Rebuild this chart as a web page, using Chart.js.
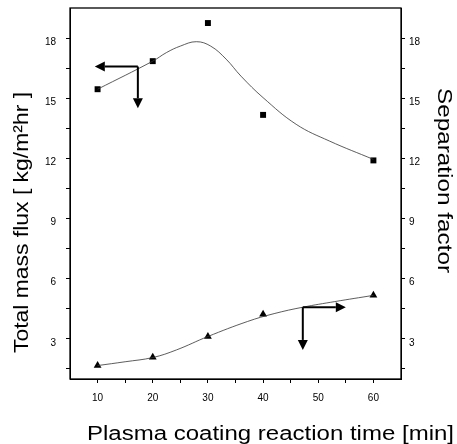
<!DOCTYPE html>
<html>
<head>
<meta charset="utf-8">
<script src="https://cdn.jsdelivr.net/npm/chart.js@4.4.0/dist/chart.umd.min.js"></script>
<style>
  html, body { margin: 0; padding: 0; background: #fff; }
</style>
</head>
<body>
<canvas id="fluxChart" width="457" height="444"></canvas>
<script>
// measured points
const times = [10, 20, 30, 40, 60];
const massFlux = [15.45, 16.85, 18.75, 14.17, 11.9];
const sepFactor = [1.67, 2.08, 3.12, 4.23, 5.17];

// fitted curves
const fluxFitX = [10, 20, 22.5, 25, 27.9, 30.5, 33.3, 36, 40, 46, 52, 60];
const fluxFitY = [15.45, 16.85, 17.28, 17.6, 17.82, 17.6, 16.95, 16.1, 15.03, 13.7, 12.87, 11.95];
const sepFitX = [10, 15, 20, 24.3, 30, 37.2, 42, 47.2, 53, 60];
const sepFitY = [1.67, 1.86, 2.07, 2.45, 3.12, 3.87, 4.26, 4.58, 4.86, 5.17];

// arrows: corner point, horizontal tip x, vertical tip y
const fluxArrow = [17.3, 16.58, 9.5, 14.5];
const sepArrow = [47.2, 4.58, 55, 2.45];

const xTicks = [10, 20, 30, 40, 50, 60];
const yTicks = [3, 6, 9, 12, 15, 18];

Chart.defaults.font.family = 'Liberation Sans, Arial, sans-serif';
Chart.defaults.color = '#000';

function pts(xs, ys) {
    return xs.map((x, i) => ({ x: x, y: ys[i] }));
}

function onStep(step) {
    return function (scale) {
        scale.ticks = scale.ticks.filter(t =>
            t.value > scale.min + 1e-6 && t.value < scale.max - 1e-6 &&
            Math.abs(t.value / step - Math.round(t.value / step)) < 1e-6);
    };
}

function fixSize(w, h) {
    return function (s) {
        if (w) s.width = w;
        if (h) s.height = h;
        s.paddingTop = 0; s.paddingBottom = 0;
        s.paddingLeft = 0; s.paddingRight = 0;
    };
}

function drawArrow(ctx, x1, y1, x2, y2) {
    const a = Math.atan2(y2 - y1, x2 - x1);
    const len = 10, half = 5;
    ctx.beginPath();
    ctx.moveTo(x1, y1);
    ctx.lineTo(x2 - Math.cos(a) * len, y2 - Math.sin(a) * len);
    ctx.stroke();
    ctx.beginPath();
    ctx.moveTo(x2, y2);
    ctx.lineTo(x2 - Math.cos(a) * len - Math.sin(a) * half, y2 - Math.sin(a) * len + Math.cos(a) * half);
    ctx.lineTo(x2 - Math.cos(a) * len + Math.sin(a) * half, y2 - Math.sin(a) * len - Math.cos(a) * half);
    ctx.closePath();
    ctx.fill();
}

// text stretched to the width it has in the original
function fitText(ctx, text, width) {
    const w = ctx.measureText(text).width;
    ctx.scale(width / w, 1);
    ctx.fillText(text, 0, 0);
}

const extras = {
    id: 'extras',
    afterDatasetsDraw(chart) {
        const ctx = chart.ctx, ca = chart.chartArea;
        const xs = chart.scales.x, ys = chart.scales.y;
        ctx.save();
        // frame
        ctx.strokeStyle = '#000';
        ctx.lineWidth = 1.3;
        ctx.strokeRect(ca.left, ca.top, ca.right - ca.left, ca.bottom - ca.top);
        // arrows
        ctx.fillStyle = '#000';
        ctx.lineWidth = 2;
        [fluxArrow, sepArrow].forEach(a => {
            const cx = xs.getPixelForValue(a[0]), cy = ys.getPixelForValue(a[1]);
            drawArrow(ctx, cx, cy, xs.getPixelForValue(a[2]), cy);
            drawArrow(ctx, cx, cy, cx, ys.getPixelForValue(a[3]));
        });
        ctx.restore();
    },
    afterDraw(chart) {
        const ctx = chart.ctx;
        ctx.save();
        ctx.fillStyle = '#000';
        ctx.font = '20px Liberation Sans, Arial, sans-serif';
        ctx.textBaseline = 'alphabetic';
        ctx.textAlign = 'left';
        // x title
        ctx.save();
        ctx.translate(87, 440);
        fitText(ctx, 'Plasma coating reaction time [min]', 367);
        ctx.restore();
        // left title
        ctx.save();
        ctx.translate(28, 353);
        ctx.rotate(-Math.PI / 2);
        fitText(ctx, 'Total mass flux [ kg/m\u00b2hr ]', 261);
        ctx.restore();
        // right title
        ctx.save();
        ctx.translate(438, 88);
        ctx.rotate(Math.PI / 2);
        fitText(ctx, 'Separation factor', 185);
        ctx.restore();
        ctx.restore();
    }
};

const tickGrid = { display: true, drawOnChartArea: false, drawTicks: true, tickLength: 4, color: '#000', tickColor: '#000' };

const fluxChart = new Chart(document.getElementById('fluxChart').getContext('2d'), {
    type: 'scatter',
    data: {
        datasets: [
            {
                label: 'Flux fit',
                type: 'line',
                data: pts(fluxFitX, fluxFitY),
                yAxisID: 'y',
                borderColor: '#333',
                borderWidth: 0.8,
                pointRadius: 0,
                tension: 0.4,
                fill: false
            },
            {
                label: 'Separation fit',
                type: 'line',
                data: pts(sepFitX, sepFitY),
                yAxisID: 'y1',
                borderColor: '#333',
                borderWidth: 0.8,
                pointRadius: 0,
                tension: 0.4,
                fill: false
            },
            {
                label: 'Total mass flux',
                data: pts(times, massFlux),
                yAxisID: 'y',
                pointStyle: 'rect',
                pointRadius: 4.2,
                backgroundColor: '#000',
                borderColor: '#000',
                borderWidth: 0
            },
            {
                label: 'Separation factor',
                data: pts(times, sepFactor),
                yAxisID: 'y1',
                pointStyle: 'triangle',
                pointRadius: 4.5,
                backgroundColor: '#000',
                borderColor: '#000',
                borderWidth: 0
            }
        ]
    },
    options: {
        responsive: false,
        animation: false,
        devicePixelRatio: 1,
        layout: { padding: { top: 8, left: 0, right: 0, bottom: 0 } },
        plugins: {
            legend: { display: false },
            tooltip: { enabled: false }
        },
        scales: {
            x: {
                type: 'linear',
                min: 5,
                max: 65,
                afterBuildTicks: onStep(5),
                afterFit: fixSize(0, 65),
                grid: tickGrid,
                border: { display: true, color: '#000', width: 1 },
                ticks: {
                    stepSize: 5,
                    padding: 9,
                    font: { size: 10 },
                    callback: v => xTicks.includes(v) ? v : ''
                }
            },
            y: {
                position: 'left',
                min: 1,
                max: 19.5,
                afterBuildTicks: onStep(1.5),
                afterFit: fixSize(70, 0),
                grid: tickGrid,
                border: { display: true, color: '#000', width: 1 },
                ticks: {
                    stepSize: 1.5,
                    padding: 10,
                    labelOffset: 4,
                    font: { size: 10 },
                    callback: v => yTicks.includes(v) ? v : ''
                }
            },
            y1: {
                position: 'right',
                min: 1,
                max: 19.5,
                afterBuildTicks: onStep(1.5),
                afterFit: fixSize(56, 0),
                grid: tickGrid,
                border: { display: true, color: '#000', width: 1 },
                ticks: {
                    stepSize: 1.5,
                    padding: 4,
                    labelOffset: 4,
                    font: { size: 10 },
                    callback: v => yTicks.includes(v) ? v : ''
                }
            }
        }
    },
    plugins: [extras]
});
</script>
</body>
</html>
